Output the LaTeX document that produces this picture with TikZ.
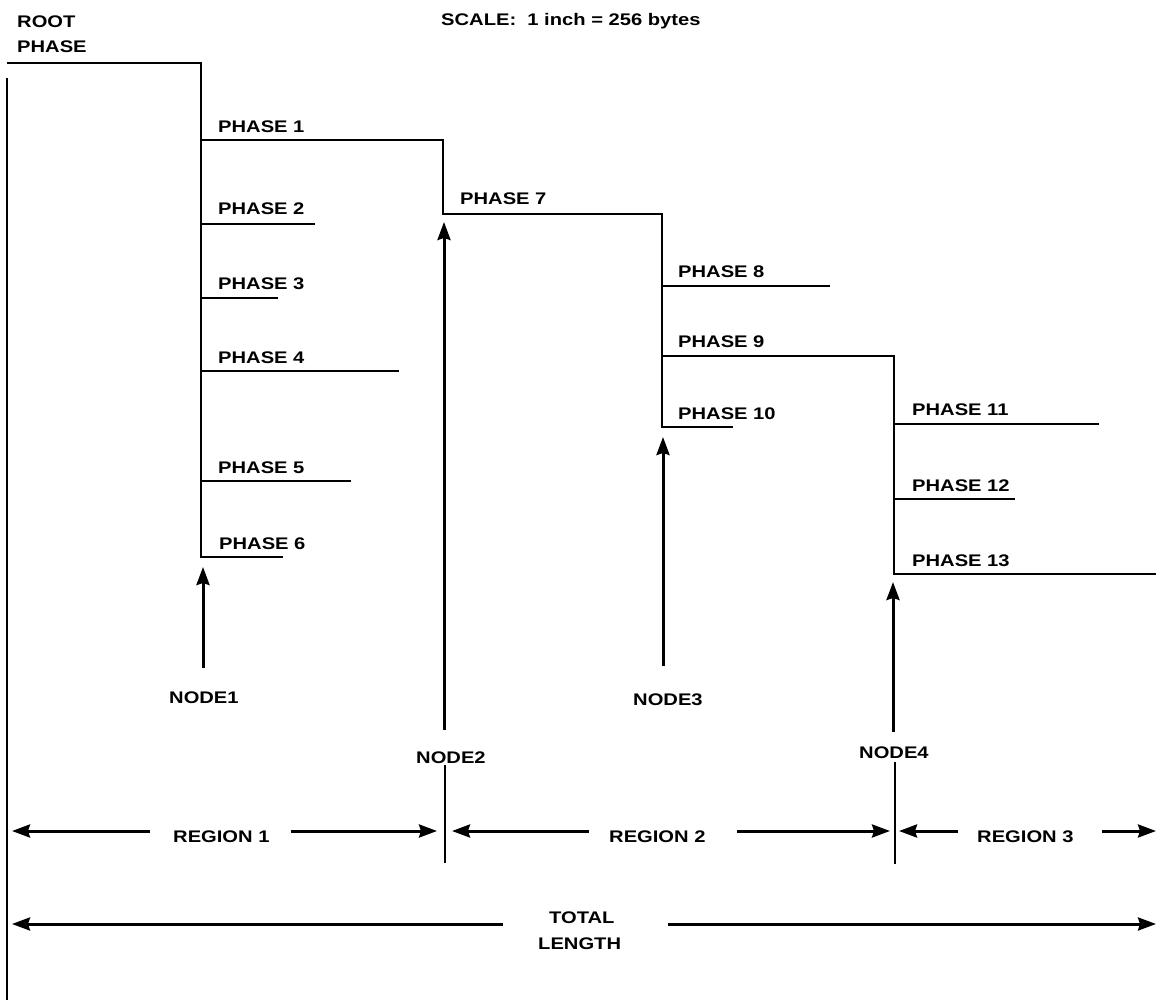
\documentclass[tikz,border=0pt]{standalone}
\usepackage{fontspec}
\setmainfont[FakeStretch=1.2]{Liberation Sans}
\usetikzlibrary{arrows.meta}
\begin{document}
\begin{tikzpicture}[x=1pt,y=-1pt,
  ln/.style={line width=2.7pt, line join=miter},
  arr/.style={line width=3pt, -{Stealth[length=18pt,width=13pt,inset=2pt]}},
  lbl/.style={anchor=base west, inner sep=0pt, font=\fontsize{16.8}{18}\selectfont\bfseries}]
\useasboundingbox (0,0) rectangle (1156,1000);
\fill[white] (0,0) rectangle (1156,1000);

% ---------- coordinates ----------
\coordinate (r0) at (7,63);
\coordinate (r1) at (201,63);
\coordinate (a1) at (201,140); \coordinate (b1) at (443,140);
\coordinate (a7) at (443,214); \coordinate (b7) at (662,214);
\coordinate (a2) at (201,224); \coordinate (b2) at (315,224);
\coordinate (a3) at (201,298); \coordinate (b3) at (278,298);
\coordinate (a4) at (201,371); \coordinate (b4) at (399,371);
\coordinate (a5) at (201,481); \coordinate (b5) at (351,481);
\coordinate (a6) at (201,557); \coordinate (b6) at (283,557);
\coordinate (a8) at (662,286); \coordinate (b8) at (830,286);
\coordinate (a9) at (662,356); \coordinate (b9) at (894,356);
\coordinate (a10) at (662,427); \coordinate (b10) at (733,427);
\coordinate (a11) at (894,424); \coordinate (b11) at (1099,424);
\coordinate (a12) at (894,499); \coordinate (b12) at (1015,499);
\coordinate (a13) at (894,574); \coordinate (b13) at (1156,574);
\coordinate (lt) at (7,78); \coordinate (lb) at (7,1000);

% node arrows
\coordinate (n1s) at (203,668); \coordinate (n1t) at (203,567);
\coordinate (n2s) at (444,730); \coordinate (n2t) at (444,222);
\coordinate (n3s) at (663,666); \coordinate (n3t) at (663,437);
\coordinate (n4s) at (893,732); \coordinate (n4t) at (893,582);
\coordinate (d2t) at (445,765); \coordinate (d2b) at (445,863);
\coordinate (d4t) at (895,762); \coordinate (d4b) at (895,864);

% region arrows
\coordinate (g1a) at (150,831); \coordinate (g1l) at (12,831);
\coordinate (g1b) at (291,831); \coordinate (g1r) at (437,831);
\coordinate (g2a) at (589,831); \coordinate (g2l) at (452,831);
\coordinate (g2b) at (737,831); \coordinate (g2r) at (890,831);
\coordinate (g3a) at (958,831); \coordinate (g3l) at (899,831);
\coordinate (g3b) at (1102,831); \coordinate (g3r) at (1156,831);
\coordinate (ta) at (503,924); \coordinate (tl) at (12,924);
\coordinate (tb) at (668,924); \coordinate (tr) at (1156,924);

% ---------- lines ----------
\draw[ln] (r0) -- (r1) -- (a6) -- (b6);
\draw[ln] (a1) -- (b1) -- (a7) -- (b7) -- (a10) -- (b10);
\draw[ln] (a2) -- (b2);
\draw[ln] (a3) -- (b3);
\draw[ln] (a4) -- (b4);
\draw[ln] (a5) -- (b5);
\draw[ln] (a8) -- (b8);
\draw[ln] (a9) -- (b9) -- (a13) -- (b13);
\draw[ln] (a11) -- (b11);
\draw[ln] (a12) -- (b12);
\draw[ln] (lt) -- (lb);
\draw[ln] (d2t) -- (d2b);
\draw[ln] (d4t) -- (d4b);

\draw[arr] (n1s) -- (n1t);
\draw[arr] (n2s) -- (n2t);
\draw[arr] (n3s) -- (n3t);
\draw[arr] (n4s) -- (n4t);

\draw[arr] (g1a) -- (g1l);
\draw[arr] (g1b) -- (g1r);
\draw[arr] (g2a) -- (g2l);
\draw[arr] (g2b) -- (g2r);
\draw[arr] (g3a) -- (g3l);
\draw[arr] (g3b) -- (g3r);
\draw[arr] (ta) -- (tl);
\draw[arr] (tb) -- (tr);

% ---------- labels ----------
\node[lbl] (root1) at (17,28) {ROOT};
\node[lbl] (root2) at (17,53) {PHASE};
\node[lbl] (scale) at (441,26) {SCALE:\ \ 1 inch = 256 bytes};
\node[lbl] (l1) at (218,133) {PHASE 1};
\node[lbl] (l2) at (218,215) {PHASE 2};
\node[lbl] (l3) at (218,290) {PHASE 3};
\node[lbl] (l4) at (218,363) {PHASE 4};
\node[lbl] (l5) at (218,473) {PHASE 5};
\node[lbl] (l6) at (219,549) {PHASE 6};
\node[lbl] (l7) at (460,205) {PHASE 7};
\node[lbl] (l8) at (678,277) {PHASE 8};
\node[lbl] (l9) at (678,347) {PHASE 9};
\node[lbl] (l10) at (678,419) {PHASE 10};
\node[lbl] (l11) at (912,415) {PHASE 11};
\node[lbl] (l12) at (912,491) {PHASE 12};
\node[lbl] (l13) at (912,566) {PHASE 13};
\node[lbl] (nd1) at (169,703) {NODE1};
\node[lbl] (nd2) at (416,763) {NODE2};
\node[lbl] (nd3) at (633,705) {NODE3};
\node[lbl] (nd4) at (859,758) {NODE4};
\node[lbl] (rg1) at (173,842) {REGION 1};
\node[lbl] (rg2) at (609,842) {REGION 2};
\node[lbl] (rg3) at (977,842) {REGION 3};
\node[lbl] (tot1) at (549,923) {TOTAL};
\node[lbl] (tot2) at (538,949) {LENGTH};
\end{tikzpicture}
\end{document}
